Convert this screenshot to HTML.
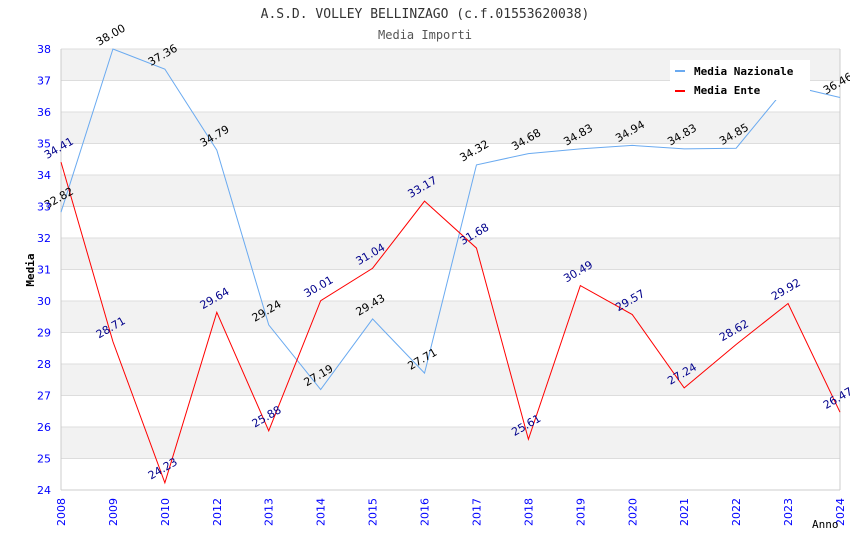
<!DOCTYPE html>
<html><head><meta charset="utf-8"><style>
body{margin:0;background:#fff;}
svg text{font-family:"DejaVu Sans Mono","Liberation Mono",monospace;}
svg text.sans{font-family:"DejaVu Sans","Liberation Sans",sans-serif;}
</style></head><body>
<svg id="chart" width="850" height="550" xmlns="http://www.w3.org/2000/svg">
<text x="425" y="18" text-anchor="middle" font-size="13" fill="#333">A.S.D. VOLLEY BELLINZAGO (c.f.01553620038)</text>
<text x="425" y="39" text-anchor="middle" font-size="12" fill="#555">Media Importi</text>
<g id="bands"></g><g id="grid"></g><g id="lines"></g><g id="labels"></g><g id="ticks"></g>
<text transform="translate(34,270) rotate(-90)" text-anchor="middle" font-size="11" font-weight="bold" fill="#000">Media</text>
<text x="812" y="528" font-size="11" fill="#000">Anno</text>
<g>
<rect x="670" y="60" width="140" height="40" fill="#fff"/>
<rect x="675" y="70" width="10" height="2" fill="#6aaaf0"/>
<text x="694" y="75" font-size="11" font-weight="bold" fill="#000">Media Nazionale</text>
<rect x="675" y="90" width="10" height="2" fill="#ff0000"/>
<text x="694" y="94" font-size="11" font-weight="bold" fill="#000">Media Ente</text>
</g>
</svg>
<script>
const years=["2008","2009","2010","2012","2013","2014","2015","2016","2017","2018","2019","2020","2021","2022","2023","2024"];
const nazionale=[32.82,38.00,37.36,34.79,29.24,27.19,29.43,27.71,34.32,34.68,34.83,34.94,34.83,34.85,36.85,36.46];
const ente=[34.41,28.71,24.23,29.64,25.88,30.01,31.04,33.17,31.68,25.61,30.49,29.57,27.24,28.62,29.92,26.47];
const yTicks=[24,25,26,27,28,29,30,31,32,33,34,35,36,37,38];
const L=61,R=840,T=49,B=490,yMin=24,yMax=38;
const NS="http://www.w3.org/2000/svg";
function x(i){return L+i*(R-L)/(years.length-1);}
function y(v){return B-(v-yMin)/(yMax-yMin)*(B-T);}
function mk(p,tag,a){const e=document.createElementNS(NS,tag);for(const k in a)e.setAttribute(k,a[k]);document.getElementById(p).appendChild(e);return e;}
for(let v=yMin;v<yMax;v++){
  const r=mk('bands','rect',{x:L,y:y(v+1),width:R-L,height:y(v)-y(v+1),fill:((yMax-v-1)%2===0)?'#f2f2f2':'#fff'});
  
  
}
yTicks.forEach(v=>{
  const g=mk('grid','line',{x1:L,x2:R,y1:y(v),y2:y(v),stroke:'#dddddd'});
  
  
  const t=mk('ticks','text',{x:L-10,y:y(v)+4,'text-anchor':'end','font-size':'11',fill:'#0000ff','class':'sans'});
  t.textContent=v;
  
  
});
mk('grid','line',{x1:L,x2:L,y1:T,y2:B,stroke:'#ccc'});
mk('grid','line',{x1:R,x2:R,y1:T,y2:B,stroke:'#ccc'});
mk('grid','line',{x1:L,x2:R,y1:B,y2:B,stroke:'#ccc'});
years.forEach((yr,i)=>{
  const t=mk('ticks','text',{transform:`translate(${x(i)+4},${B+8}) rotate(-90)`,'text-anchor':'end','font-size':'11',fill:'#0000ff','class':'sans'});
  t.textContent=yr;
  
  
});
function series(data,color,lab,name){
  const p=mk('lines','polyline',{points:data.map((v,i)=>x(i)+','+y(v)).join(' '),fill:'none',stroke:color,'stroke-width':'1'});
  
  
  data.forEach((v,i)=>{
    const t=mk('labels','text',{transform:`translate(${x(i)-14},${y(v)-3}) rotate(-30)`,'font-size':'11',fill:lab,'class':'sans'});
    t.textContent=v.toFixed(2);
    
    
  });
}
series(nazionale,'#6aaaf0','#000','media-nazionale');
series(ente,'#ff0000','#00008b','media-ente');
</script>
</body></html>
